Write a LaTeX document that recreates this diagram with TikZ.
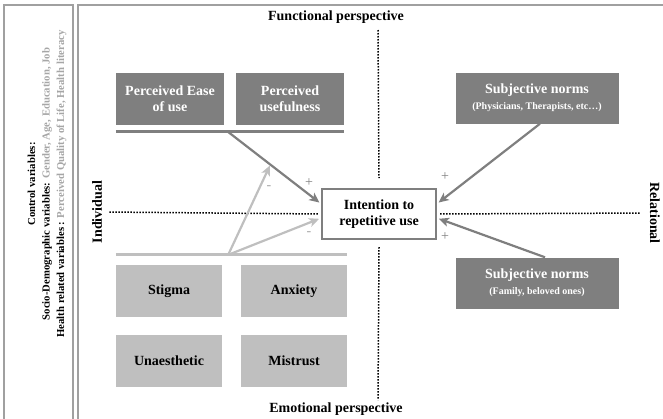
\documentclass[tikz,border=0pt]{standalone}
\usepackage{fontspec}
\setmainfont{Liberation Serif}
\usetikzlibrary{arrows.meta,calc}
\definecolor{darkbox}{HTML}{7F7F7F}
\definecolor{lightbox}{HTML}{BFBFBF}
\definecolor{valgray}{HTML}{A6A6A6}
\definecolor{framegray}{HTML}{A0A0A0}
\begin{document}
\begin{tikzpicture}[x=1pt,y=-1pt,
  darknode/.style={fill=darkbox,text=white,font=\bfseries\fontsize{14}{16}\selectfont,align=center,minimum width=108pt,minimum height=52pt,inner sep=2pt},
  normnode/.style={darknode,minimum width=163pt,minimum height=51pt},
  lightnode/.style={fill=lightbox,font=\bfseries\fontsize{14}{16}\selectfont,minimum width=106pt,minimum height=52pt},
  intentbox/.style={draw=darkbox,line width=2pt,fill=white,font=\bfseries\fontsize{14}{16}\selectfont,align=center,minimum width=114pt,minimum height=50pt,inner sep=1pt},
  darkarrow/.style={darkbox,line width=2.2pt,-{Stealth[length=10pt,width=9pt,inset=2.5pt]},shorten >=2pt},
  lightarrow/.style={lightbox,line width=2.2pt,-{Stealth[length=10pt,width=9pt,inset=2.5pt]},shorten >=1pt},
  bar/.style={line width=3pt},
  axis/.style={line width=1.5pt,dash pattern=on 1.5pt off 1.5pt},
  persp/.style={font=\bfseries\fontsize{14}{16}\selectfont},
  sign/.style={font=\fontsize{14}{14}\selectfont,inner sep=1pt}]
\useasboundingbox (0,0) rectangle (663,418);
\draw[framegray,line width=1.2pt] (4,5) rectangle (73,425);
\draw[framegray,line width=1.2pt] (78,5) rectangle (670,425);
\node[rotate=90,align=center,font=\bfseries\fontsize{10.7}{14.5}\selectfont] (ctrl) at (47,184) {Control variables:\\Socio-Demographic variables: {\color{valgray}Gender, Age, Education, Job}\\Health related variables : {\color{valgray}Perceived Quality of Life, Health literacy}};
\node[persp] (func) at (336,17) {Functional perspective};
\node[persp] (emot) at (336,409) {Emotional perspective};
\node[persp,rotate=90] (indiv) at (97,212) {Individual};
\node[persp,rotate=-90] (relat) at (655,213) {Relational};
\node[intentbox] (intent) at (379,214) {Intention to\\repetitive use};
\node[darknode] (ease) at (170,99) {Perceived Ease\\of use};
\node[darknode] (useful) at (290,99) {Perceived\\usefulness};
\node[normnode] (normA) at (537,98) {Subjective norms\\{\fontsize{10}{12}\selectfont (Physicians, Therapists, etc…)}};
\node[normnode] (normB) at (537,283) {Subjective norms\\{\fontsize{10}{12}\selectfont (Family, beloved ones)}};
\node[lightnode] (stigma) at (169,291) {Stigma};
\node[lightnode] (anxiety) at (294,291) {Anxiety};
\node[lightnode] (unaesth) at (169,361) {Unaesthetic};
\node[lightnode] (mistrust) at (294,361) {Mistrust};
\coordinate (ftop) at (378,30);
\coordinate (ebot) at (378,400);
\draw[axis] (ftop) -- ($(intent.north)+(0,-10)$);
\draw[axis] ($(intent.south)+(0,7)$) -- (ebot);
\draw[axis,shorten <=4pt,shorten >=3pt] (indiv.south) -- (intent.west);
\draw[axis,shorten <=3pt,shorten >=6pt] (intent.east) -- (relat.south);
\draw[bar,darkbox] ($(ease.south west)+(0,6)$) -- ($(useful.south east)+(0,6)$);
\draw[bar,lightbox] ($(stigma.north west)+(0,-10)$) -- ($(anxiety.north east)+(0,-10)$);
\coordinate (topfork) at ($(ease.south east)+(3,6)$);
\coordinate (botfork) at ($(stigma.north east)+(6,-10)$);
\draw[darkarrow] (topfork) -- coordinate[pos=0.46] (moder) (intent.170);
\draw[lightarrow] (botfork) -- (moder);
\draw[lightarrow,shorten >=2pt] (botfork) -- (intent.184);
\draw[darkarrow] ($(normA.south)+(3,0)$) -- (intent.10);
\draw[darkarrow] ($(normB.north)+(8,0)$) -- (intent.-4);
\node[sign,text=darkbox] (plusA) at (309,183) {+};
\node[sign,text=valgray] (minusA) at (269,188) {-};
\node[sign,text=valgray] (minusB) at (309,234) {-};
\node[sign,text=darkbox] (plusB) at (445,177) {+};
\node[sign,text=darkbox] (plusC) at (445,237) {+};
\end{tikzpicture}
\end{document}
